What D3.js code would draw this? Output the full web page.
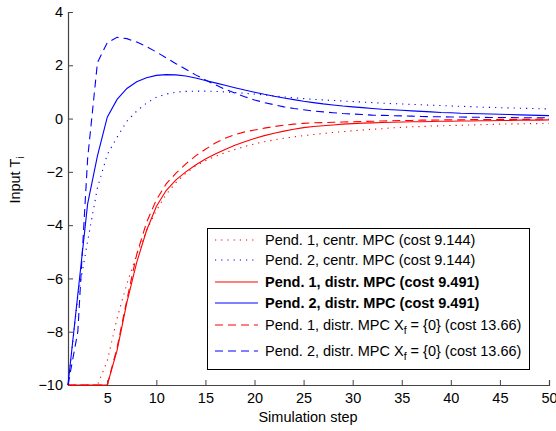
<!DOCTYPE html>
<html><head><meta charset="utf-8">
<script src="https://cdn.jsdelivr.net/npm/d3@7"></script>
<style>body{margin:0;background:#fff}svg{display:block;font-family:"Liberation Sans",Arial,sans-serif}</style>
</head><body><svg id="c" width="556" height="431"></svg>
<script>
const steps = d3.range(1, 51);
const p1Centr = [-10,-10,-10,-10,-9.1,-7.5,-6.2,-5.1,-4.2,-3.45,-2.85,-2.4,-2.05,-1.78,-1.58,-1.42,-1.28,-1.16,-1.05,-0.95,-0.87,-0.8,-0.74,-0.69,-0.64,-0.6,-0.56,-0.52,-0.49,-0.46,-0.43,-0.4,-0.38,-0.35,-0.33,-0.31,-0.3,-0.28,-0.27,-0.26,-0.25,-0.24,-0.23,-0.22,-0.21,-0.2,-0.2,-0.19,-0.19,-0.18];
const p2Centr = [-10,-6.7,-4.6,-2.6,-1.35,-0.7,-0.1,0.28,0.58,0.8,0.92,0.99,1.02,1.03,1.03,1.02,1.0,0.98,0.95,0.92,0.89,0.85,0.81,0.78,0.75,0.72,0.7,0.68,0.66,0.64,0.62,0.6,0.58,0.56,0.55,0.53,0.52,0.5,0.49,0.47,0.46,0.45,0.43,0.42,0.41,0.4,0.39,0.38,0.37,0.36];
const p1Distr = [-10,-10,-10,-10,-10,-8.7,-6.9,-5.4,-4.2,-3.3,-2.7,-2.3,-2.0,-1.74,-1.52,-1.33,-1.16,-1.0,-0.87,-0.75,-0.64,-0.55,-0.47,-0.4,-0.34,-0.3,-0.27,-0.24,-0.21,-0.19,-0.17,-0.16,-0.15,-0.14,-0.13,-0.12,-0.12,-0.11,-0.1,-0.1,-0.09,-0.09,-0.08,-0.08,-0.07,-0.07,-0.06,-0.06,-0.06,-0.05];
const p2Distr = [-10,-6.6,-3.2,-1.4,0.05,0.72,1.13,1.38,1.53,1.62,1.65,1.64,1.6,1.52,1.43,1.34,1.25,1.16,1.07,0.99,0.91,0.84,0.77,0.71,0.65,0.6,0.55,0.51,0.47,0.44,0.41,0.38,0.35,0.33,0.31,0.29,0.27,0.25,0.23,0.22,0.2,0.19,0.18,0.17,0.16,0.15,0.14,0.13,0.12,0.11];
const p1Xf = [-10,-10,-10,-10,-10,-8.6,-6.8,-5.1,-3.9,-3.05,-2.45,-2.05,-1.7,-1.4,-1.15,-0.92,-0.74,-0.6,-0.5,-0.43,-0.36,-0.3,-0.25,-0.21,-0.18,-0.16,-0.15,-0.14,-0.13,-0.12,-0.11,-0.1,-0.09,-0.08,-0.07,-0.07,-0.06,-0.06,-0.05,-0.05,-0.05,-0.04,-0.04,-0.04,-0.03,-0.03,-0.03,-0.03,-0.02,-0.02];
const p2Xf = [-10,-8.0,-1.5,2.1,2.85,3.05,3.0,2.87,2.7,2.5,2.28,2.06,1.85,1.64,1.45,1.27,1.1,0.96,0.82,0.7,0.6,0.52,0.44,0.38,0.33,0.28,0.25,0.22,0.19,0.17,0.15,0.13,0.12,0.11,0.1,0.09,0.08,0.07,0.07,0.06,0.06,0.05,0.05,0.04,0.04,0.04,0.03,0.03,0.03,0.03];
const xTicks = [5,10,15,20,25,30,35,40,45,50];
const yTicks = [-10,-8,-6,-4,-2,0,2,4];
const series = [
  {name:"Pend. 1, centr. MPC (cost 9.144)", data:p1Centr, color:"#ff0000", dash:"1.2,5", bold:false, sub:false},
  {name:"Pend. 2, centr. MPC (cost 9.144)", data:p2Centr, color:"#0000ff", dash:"1.2,5", bold:false, sub:false},
  {name:"Pend. 1, distr. MPC (cost 9.491)", data:p1Distr, color:"#ff0000", dash:null, bold:true, sub:false},
  {name:"Pend. 2, distr. MPC (cost 9.491)", data:p2Distr, color:"#0000ff", dash:null, bold:true, sub:false},
  {name:"Pend. 1, distr. MPC X|f| = {0} (cost 13.66)", data:p1Xf, color:"#ff0000", dash:"8,5", bold:false, sub:true},
  {name:"Pend. 2, distr. MPC X|f| = {0} (cost 13.66)", data:p2Xf, color:"#0000ff", dash:"8,5", bold:false, sub:true}
];

const svg = d3.select("#c");
const x = d3.scaleLinear().domain([1,50]).range([68,549]);
const y = d3.scaleLinear().domain([-10,4]).range([385,12]);
const axCol = "#444";
const fs = "14.5px";

const gx = svg.append("g").attr("transform","translate(0,385)")
  .call(d3.axisBottom(x).tickValues(xTicks).tickSize(-5).tickPadding(8).tickFormat(d3.format("d")));
const gy = svg.append("g").attr("transform","translate(68,0)")
  .call(d3.axisLeft(y).tickValues(yTicks).tickSize(-5).tickPadding(5).tickFormat(d=>d<0?"\u2212"+Math.abs(d):d));
[gx,gy].forEach(g=>{
  g.select(".domain").attr("stroke",axCol).attr("stroke-width",1.2);
  g.selectAll(".tick line").attr("stroke",axCol);
  g.selectAll(".tick text").attr("fill","#000").attr("font-size",fs).attr("font-family","'Liberation Sans',Arial,sans-serif");
});

const line = d3.line().x((d,i)=>x(steps[i])).y(d=>y(d));
series.forEach(s=>{
  svg.append("path").datum(s.data).attr("d",line).attr("fill","none")
    .attr("stroke",s.color).attr("stroke-width",1.1)
    .attr("stroke-dasharray",s.dash);
});

// axis labels
svg.append("text").attr("x",308).attr("y",422).attr("text-anchor","middle")
  .attr("font-size",fs).text("Simulation step");
const yl = svg.append("text").attr("transform","translate(20,180) rotate(-90)").attr("text-anchor","middle").attr("font-size",fs);
yl.append("tspan").text("Input T");
yl.append("tspan").attr("font-size","10.5px").attr("dy",4).text("i");

// legend
const lg = svg.append("g");
lg.append("rect").attr("x",207.5).attr("y",228.5).attr("width",322).attr("height",141)
  .attr("fill","#fff").attr("stroke","#000").attr("stroke-width",1);
const rowsY = [240,260,282,303,325,351];
series.forEach((s,i)=>{
  const cy = rowsY[i];
  lg.append("line").attr("x1",215).attr("x2",258).attr("y1",cy).attr("y2",cy)
    .attr("stroke",s.color).attr("stroke-width",1.1).attr("stroke-dasharray",s.dash);
  const t = lg.append("text").attr("x",265).attr("y",cy+5).attr("font-size",fs)
    .attr("font-weight",s.bold?"bold":"normal");
  if (s.sub) {
    const parts = s.name.split("|");
    t.append("tspan").text(parts[0]);
    t.append("tspan").attr("font-size","10.5px").attr("dy",4).text(parts[1]);
    t.append("tspan").attr("dy",-4).text(parts[2]);
  } else t.text(s.name);
});
</script></body></html>
